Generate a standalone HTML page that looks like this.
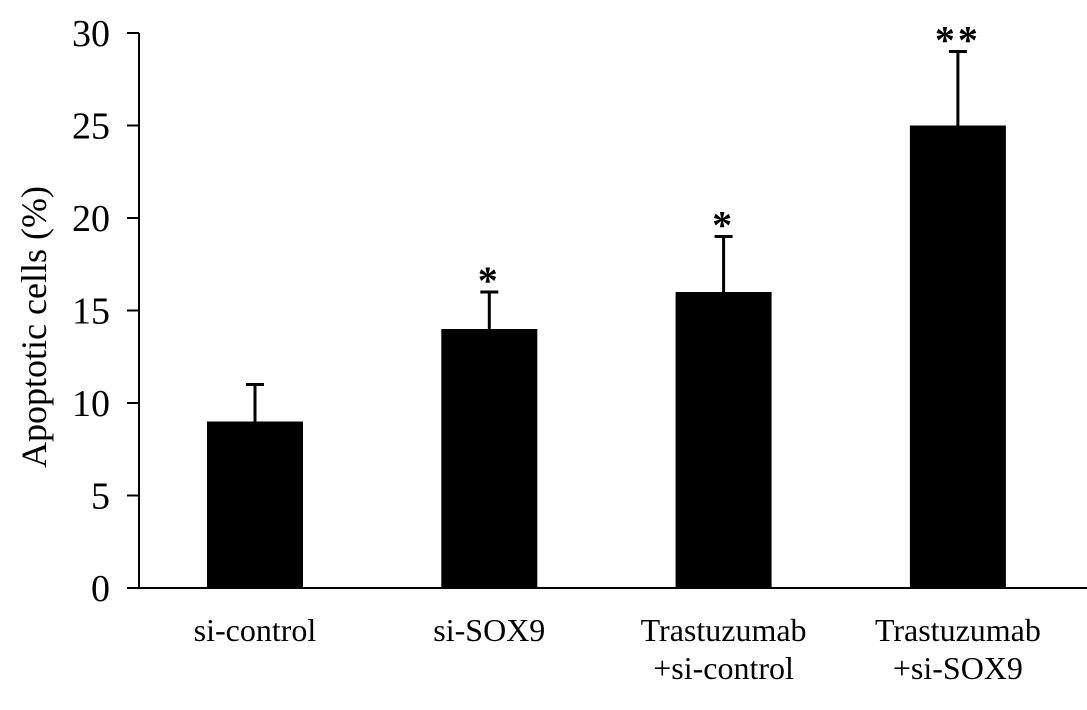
<!DOCTYPE html>
<html><head><meta charset="utf-8"><style>
body{margin:0;background:#fff}
svg text{font-family:"Liberation Serif",serif;fill:#000}
</style></head><body>
<svg id="chart" width="1087" height="705" viewBox="0 0 1087 705"></svg>
<script>
const categories=[["si-control"],["si-SOX9"],["Trastuzumab","+si-control"],["Trastuzumab","+si-SOX9"]];
const values=[9,14,16,25];
const errors=[2,2,3,4];
const marks=["","*","*","**"];
const ticks=[0,5,10,15,20,25,30];
const svg=document.getElementById('chart');
const NS='http://www.w3.org/2000/svg';
const y0=588,yTop=33,vmax=30;
const y=v=>y0-(y0-yTop)*v/vmax;
const axisX=139, plotRight=1087;
const cx=i=>255+i*234.3;
const bw=96;
function mk(tag,attrs,parent){const e=document.createElementNS(NS,tag);for(const k in attrs)e.setAttribute(k,attrs[k]);(parent||svg).appendChild(e);return e;}
values.forEach((v,i)=>{
  const r=mk('rect',{x:cx(i)-bw/2,y:y(v),width:bw,height:y0-y(v),fill:'#000'});
  
  
  const l=mk('line',{x1:cx(i),x2:cx(i),y1:y(v),y2:y(v+errors[i]),stroke:'#000','stroke-width':3});
  
  
  const c=mk('line',{x1:cx(i)-9,x2:cx(i)+9,y1:y(v+errors[i]),y2:y(v+errors[i]),stroke:'#000','stroke-width':3});
  
  
  if(marks[i]){
    const t=mk('text',{x:cx(i),y:y(v+errors[i])+2,'text-anchor':'middle','font-size':40,'font-weight':'bold','letter-spacing':'3'});
    t.textContent=marks[i];
    
    
  }
  categories[i].forEach((s,j)=>{
    const t=mk('text',{x:cx(i),y:641+j*38,'text-anchor':'middle','font-size':32});
    t.textContent=s;
    
    
  });
});
const ya=mk('line',{x1:axisX,x2:axisX,y1:yTop,y2:y0,stroke:'#000','stroke-width':2});


const xa=mk('line',{x1:127,x2:plotRight,y1:y0,y2:y0,stroke:'#000','stroke-width':2});


ticks.forEach(v=>{
  const l=mk('line',{x1:127,x2:axisX,y1:y(v),y2:y(v),stroke:'#000','stroke-width':2});
  
  
  const t=mk('text',{x:110,y:y(v)+13,'text-anchor':'end','font-size':38});
  t.textContent=v;
  
  
});
const yt=mk('text',{x:0,y:0,'text-anchor':'middle','font-size':36,transform:'translate(46,327) rotate(-90)'});
yt.textContent='Apoptotic cells (%)';


</script>
</body></html>
